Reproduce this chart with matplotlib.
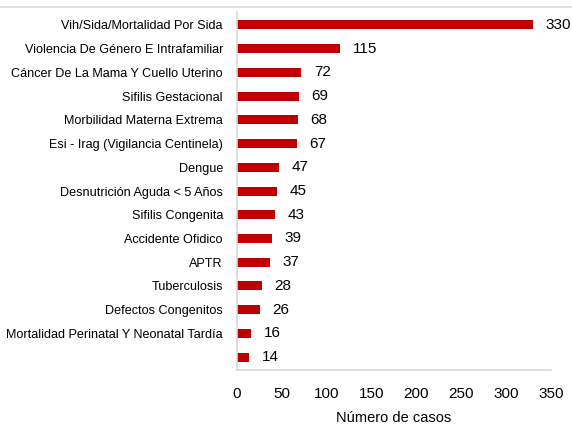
"""Horizontal bar chart of reported cases by event."""

import matplotlib

matplotlib.use("Agg")
import matplotlib.pyplot as plt
from matplotlib.lines import Line2D

categories = [
    "Vih/Sida/Mortalidad Por Sida",
    "Violencia De Género E Intrafamiliar",
    "Cáncer De La Mama Y Cuello Uterino",
    "Sifilis Gestacional",
    "Morbilidad Materna Extrema",
    "Esi - Irag (Vigilancia Centinela)",
    "Dengue",
    "Desnutrición Aguda < 5 Años",
    "Sifilis Congenita",
    "Accidente Ofidico",
    "APTR",
    "Tuberculosis",
    "Defectos Congenitos",
    "Mortalidad Perinatal Y Neonatal Tardía",
    "",
]
cases = [330, 115, 72, 69, 68, 67, 47, 45, 43, 39, 37, 28, 26, 16, 14]
x_ticks = [0, 50, 100, 150, 200, 250, 300, 350]

plt.rcParams["font.family"] = ["Liberation Sans", "DejaVu Sans"]

fig = plt.figure(figsize=(5.72, 4.25), dpi=100)
ax = fig.add_axes([0.414, 0.129, 0.549, 0.843])

ypos = list(range(len(categories)))
ax.barh(ypos, cases, height=0.38, color="#C00000")
ax.set_yticks(ypos)
ax.set_yticklabels(categories, fontsize=9.1)
ax.invert_yaxis()
ax.set_ylim(len(categories) - 0.45, -0.55)
ax.set_xlim(0, 350)
ax.set_xticks(x_ticks)
ax.tick_params(axis="x", length=0, pad=12, labelsize=11)
ax.tick_params(axis="y", length=0, pad=10)

for y, v in zip(ypos, cases):
    ax.annotate(str(v), (v, y), xytext=(9, 0), textcoords="offset points",
                va="center", ha="left", fontsize=11)

for side in ["top", "right"]:
    ax.spines[side].set_visible(False)
for side in ["left", "bottom"]:
    ax.spines[side].set_color("#D9D9D9")
    ax.spines[side].set_linewidth(1.2)

ax.set_xlabel("Número de casos", fontsize=10.5, labelpad=7)

fig.add_artist(Line2D([0, 1], [1 - 7 / 425, 1 - 7 / 425], color="#D9D9D9", lw=1.2,
                      transform=fig.transFigure))

fig.savefig("out.png", dpi=100)
plt.close(fig)
